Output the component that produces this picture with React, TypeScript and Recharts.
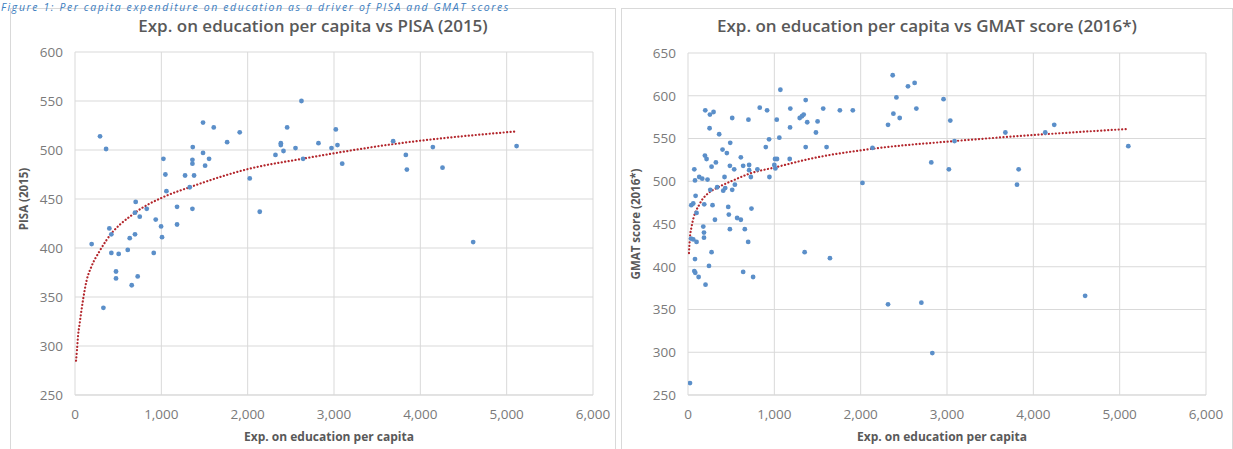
import { ComposedChart, Scatter, Line, XAxis, YAxis, CartesianGrid } from "recharts";

// axis ticks
const spendTicks = [0, 1000, 2000, 3000, 4000, 5000, 6000];
const pisaTicks = [250, 300, 350, 400, 450, 500, 550, 600];
const gmatTicks = [250, 300, 350, 400, 450, 500, 550, 600, 650];

// PISA 2015 scatter
const pisaSpend = [
  193, 290, 360, 329, 398, 421, 421, 506, 475, 475, 657, 726, 611, 634, 695, 703,
  695, 750, 831, 912, 935, 997, 1008, 1024, 1047, 1059, 1182, 1182, 1275, 1329, 1360, 1379,
  1360, 1360, 1364, 1483, 1483, 1507, 1553, 1607, 1762, 1908, 2024, 2140, 2623, 2457, 2384, 2384,
  2322, 2415, 2554, 2642, 2820, 3021, 2971, 3040, 3095, 3685, 3832, 3844, 4145, 4257, 4612, 5115,
];
const pisaScore = [
  404, 514, 501, 339, 420, 414, 395, 394, 376, 369, 362, 371, 398, 410, 414, 447,
  436, 432, 440, 395, 429, 422, 411, 491, 475, 458, 442, 424, 474, 462, 440, 474,
  490, 486, 503, 528, 497, 484, 491, 523, 508, 518, 471, 437, 550, 523, 507, 505,
  495, 499, 502, 491, 507, 521, 502, 505, 486, 509, 495, 480, 503, 482, 406, 504,
];

// GMAT 2016 scatter
const gmatSpend = [
  1070, 200, 254, 296, 512, 700, 831, 916, 250, 361, 489, 400, 450, 196, 215, 323,
  273, 73, 485, 535, 612, 639, 708, 708, 901, 939, 1028, 1058, 1008, 1031, 1000, 1012,
  1178, 1185, 1182, 1294, 1320, 1340, 1363, 1381, 1363, 804, 728, 943, 81, 130,
  165, 226, 423, 258, 338, 408, 431, 512, 543, 88, 61, 38, 188, 99, 284, 466,
  473, 735, 312, 569, 612, 485, 658, 177, 185, 185, 35, 61, 99, 697,
  273, 1351, 81, 243, 73, 84, 123, 639, 754, 203, 23, 1644, 2317, 2703, 2021, 2137,
  1759, 1909, 1605, 1566, 1501, 1482, 2371, 2414, 2379, 2452, 2317, 2548, 2625, 2645, 2960, 3038,
  2818, 3022, 3087, 3676, 4138, 4242, 3830, 3811, 5100, 4600, 2830,
];
const gmatScore = [
  607, 583, 578, 581, 574, 572, 586, 583, 562, 555, 545, 537, 533, 530, 526, 522,
  517, 514, 518, 514, 528, 518, 519, 513, 540, 549, 572, 551, 526, 526, 519, 515,
  526, 585, 563, 574, 576, 578, 595, 569, 540, 514, 505, 505, 501, 505,
  503, 502, 505, 490, 493, 489, 492, 490, 496, 483, 474, 472, 473, 463, 472, 470,
  461, 468, 455, 457, 455, 444, 444, 447, 440, 434, 433, 432, 429, 429,
  417, 417, 409, 401, 395, 393, 388, 394, 388, 379, 264, 410, 356, 358, 498, 539,
  583, 583, 540, 585, 570, 557, 624, 598, 579, 574, 566, 611, 615, 585, 596, 571,
  522, 514, 547, 557, 557, 566, 514, 496, 541, 366, 299,
];

// log trend lines
const pisaTrendX = [12, 23, 35, 54, 93, 132, 190, 286, 364, 695, 1024, 1329, 2024, 2630, 3685, 5115];
const pisaTrendY = [285, 296, 310, 323, 347, 366, 381, 397, 408, 436, 452, 462, 481, 491, 506, 519];
const gmatTrendX = [11, 23, 42, 138, 234, 331, 523, 716, 1000, 1447, 2137, 3087, 4138, 5070];
const gmatTrendY = [416, 435, 447, 474, 486, 492, 501, 509, 516, 527, 538, 547, 555, 561];

const zip = (xs: number[], ys: number[]) => xs.map((x, i) => ({ x, y: ys[i] }));

const FONT = "'Open Sans', 'DejaVu Sans', sans-serif";
const GRID = "#d9d9d9";
const TICK = "#7a7a7a";
const TITLE = "#595959";
const DOT = "#5b8fc9";
const TREND = "#b3262c";

const fmt = (v: number) => v.toLocaleString("en-US");

const dotShape = (p: any) => <circle cx={p.cx} cy={p.cy} r={2.4} fill={DOT} />;

interface PanelProps {
  left: number;
  width: number;
  title: string;
  yTitle: string;
  yTitleY: number;
  yTitleX: number;
  yTicks: number[];
  points: { x: number; y: number }[];
  trend: { x: number; y: number }[];
  yAxisWidth: number;
  marginTop: number;
  marginRight: number;
}

function Panel(props: PanelProps) {
  const inner = props.width - 2;
  const yDomain = [props.yTicks[0], props.yTicks[props.yTicks.length - 1]];
  return (
    <div
      style={{
        position: "absolute",
        left: props.left,
        top: 8,
        width: props.width,
        height: 460,
        border: `1px solid ${GRID}`,
        boxSizing: "border-box",
      }}
    >
      <div
        style={{
          position: "absolute",
          top: 6,
          left: 0,
          width: inner,
          textAlign: "center",
          fontFamily: FONT,
          fontWeight: 600,
          fontSize: 17,
          color: TITLE,
          lineHeight: "22px",
        }}
      >
        {props.title}
      </div>
      <ComposedChart
        width={inner}
        height={440}
        margin={{ top: props.marginTop, right: props.marginRight, bottom: 0, left: 0 }}
        style={{ position: "absolute", left: 0, top: 0 }}
      >
        <CartesianGrid stroke={GRID} strokeWidth={1} />
        <XAxis
          type="number"
          dataKey="x"
          domain={[0, 6000]}
          ticks={spendTicks}
          tickFormatter={fmt}
          allowDataOverflow
          height={54}
          tickLine={false}
          tickSize={0}
          tickMargin={14}
          axisLine={{ stroke: GRID }}
          tick={{ fill: TICK, fontSize: 13.5, fontFamily: FONT }}
          label={{
            content: ({ viewBox }: any) => (
              <text
                x={viewBox.x + viewBox.width / 2 - 5}
                y={viewBox.y + 46}
                textAnchor="middle"
                fill={TITLE}
                fontFamily={FONT}
                fontWeight={700}
                fontSize={12}
              >
                Exp. on education per capita
              </text>
            ),
          }}
        />
        <YAxis
          type="number"
          dataKey="y"
          domain={yDomain}
          ticks={props.yTicks}
          allowDataOverflow
          width={props.yAxisWidth}
          tickLine={false}
          axisLine={false}
          tickSize={0}
          tickMargin={12}
          tick={{ fill: TICK, fontSize: 13.5, fontFamily: FONT }}
          label={{
            content: () => (
              <text
                x={props.yTitleX}
                y={props.yTitleY}
                transform={`rotate(-90 ${props.yTitleX} ${props.yTitleY})`}
                textAnchor="middle"
                dominantBaseline="central"
                fill={TITLE}
                fontFamily={FONT}
                fontWeight={700}
                fontSize={11.5}
              >
                {props.yTitle}
              </text>
            ),
          }}
        />
        <Scatter data={props.points} shape={dotShape} isAnimationActive={false} />
        <Line
          data={props.trend}
          dataKey="y"
          type="monotone"
          stroke={TREND}
          strokeWidth={2.2}
          strokeDasharray="0.1 3.4"
          strokeLinecap="round"
          dot={false}
          activeDot={false}
          isAnimationActive={false}
        />
      </ComposedChart>
    </div>
  );
}

export default function App() {
  return (
    <div
      style={{
        position: "absolute",
        left: 0,
        top: 0,
        width: 1233,
        height: 449,
        overflow: "hidden",
        background: "#fff",
      }}
    >
      <div
        style={{
          position: "absolute",
          left: 1,
          top: 0,
          fontFamily: FONT,
          fontStyle: "italic",
          fontSize: 10.5,
          letterSpacing: 1.6,
          color: "#3b7dc0",
          whiteSpace: "nowrap",
          zIndex: 2,
        }}
      >
        Figure 1: Per capita expenditure on education as a driver of PISA and GMAT scores
      </div>
      <Panel
        left={10}
        width={606}
        title="Exp. on education per capita vs PISA (2015)"
        yTitle="PISA (2015)"
        yTitleX={12}
        yTitleY={190}
        yTicks={pisaTicks}
        points={zip(pisaSpend, pisaScore)}
        trend={zip(pisaTrendX, pisaTrendY)}
        yAxisWidth={64}
        marginTop={43}
        marginRight={22}
      />
      <Panel
        left={621}
        width={612}
        title="Exp. on education per capita vs GMAT score (2016*)"
        yTitle="GMAT score (2016*)"
        yTitleX={13}
        yTitleY={215}
        yTicks={gmatTicks}
        points={zip(gmatSpend, gmatScore)}
        trend={zip(gmatTrendX, gmatTrendY)}
        yAxisWidth={66}
        marginTop={44}
        marginRight={26}
      />
    </div>
  );
}
